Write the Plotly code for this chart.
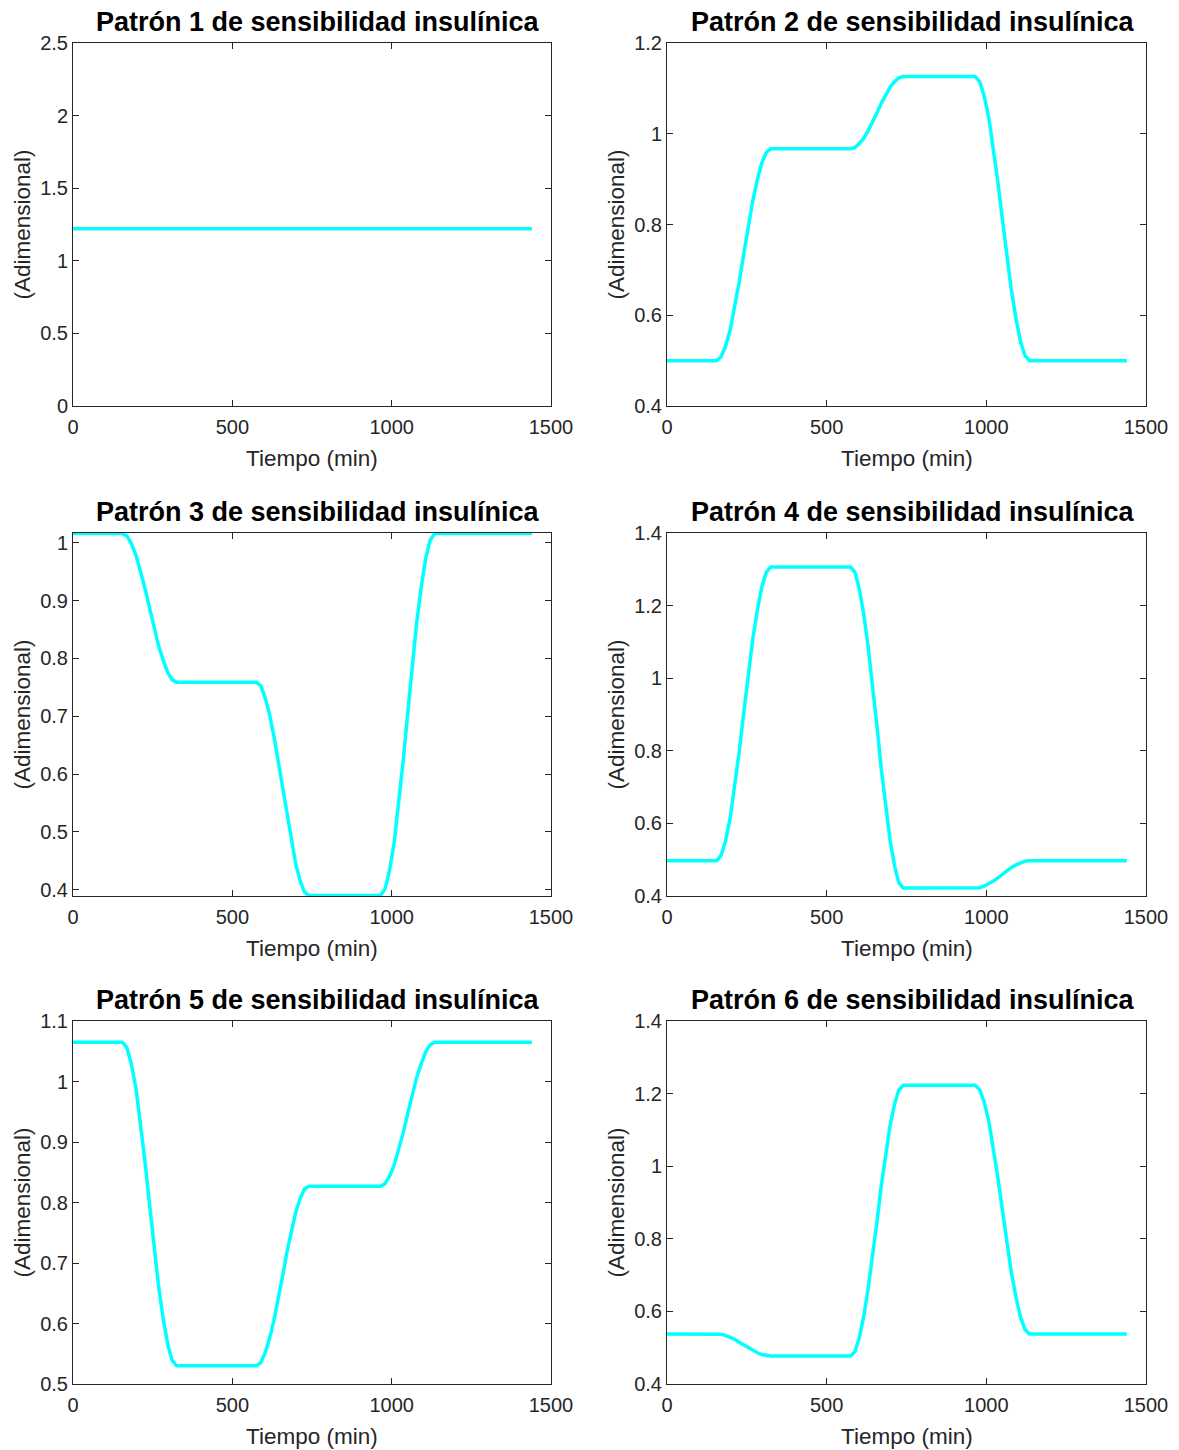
import plotly.graph_objects as go

# ---------------- data ----------------
TIME = [0,
        155, 169, 183, 198, 212, 226, 240, 254, 268, 283, 297, 311, 325,
        575, 589, 602, 616, 630, 644, 658, 671, 685, 699, 713, 726, 740,
        965, 979, 993, 1008, 1022, 1036, 1050, 1064, 1078, 1093, 1107, 1121, 1135,
        1440]

TIME_P1 = [0, 1440]
PATRON_1 = [1.22, 1.22]

PATRON_2 = [0.5,
            0.5, 0.508, 0.531, 0.568, 0.617, 0.673, 0.734, 0.794, 0.850, 0.899, 0.936, 0.959, 0.967,
            0.967, 0.970, 0.978, 0.990, 1.007, 1.026, 1.047, 1.067, 1.086, 1.103, 1.115, 1.123, 1.126,
            1.126, 1.115, 1.084, 1.034, 0.970, 0.894, 0.813, 0.732, 0.657, 0.592, 0.542, 0.511, 0.5,
            0.5]

PATRON_3 = [1.016,
            1.016, 1.012, 0.999, 0.978, 0.952, 0.921, 0.888, 0.854, 0.823, 0.797, 0.776, 0.763, 0.759,
            0.759, 0.753, 0.734, 0.705, 0.667, 0.622, 0.575, 0.527, 0.482, 0.444, 0.415, 0.396, 0.390,
            0.390, 0.401, 0.432, 0.482, 0.547, 0.622, 0.703, 0.784, 0.860, 0.924, 0.974, 1.005, 1.016,
            1.016]

PATRON_4 = [0.497,
            0.497, 0.511, 0.551, 0.615, 0.699, 0.797, 0.902, 1.006, 1.104, 1.188, 1.252, 1.292, 1.306,
            1.306, 1.291, 1.247, 1.177, 1.085, 0.978, 0.864, 0.750, 0.643, 0.551, 0.481, 0.437, 0.422,
            0.422, 0.423, 0.427, 0.433, 0.441, 0.450, 0.460, 0.469, 0.478, 0.486, 0.492, 0.496, 0.497,
            0.497]

PATRON_5 = [1.065,
            1.065, 1.056, 1.029, 0.987, 0.931, 0.867, 0.798, 0.728, 0.664, 0.608, 0.566, 0.539, 0.530,
            0.530, 0.535, 0.550, 0.574, 0.604, 0.640, 0.679, 0.717, 0.753, 0.784, 0.807, 0.822, 0.827,
            0.827, 0.831, 0.843, 0.862, 0.887, 0.915, 0.946, 0.977, 1.006, 1.030, 1.049, 1.061, 1.065,
            1.065]

PATRON_6 = [0.538,
            0.538, 0.537, 0.534, 0.529, 0.523, 0.515, 0.508, 0.500, 0.492, 0.486, 0.481, 0.478, 0.477,
            0.477, 0.490, 0.527, 0.586, 0.664, 0.754, 0.850, 0.947, 1.037, 1.114, 1.173, 1.210, 1.223,
            1.223, 1.211, 1.177, 1.123, 1.052, 0.969, 0.881, 0.792, 0.709, 0.638, 0.584, 0.550, 0.538,
            0.538]

TITLES = ["Patrón 1 de sensibilidad insulínica",
          "Patrón 2 de sensibilidad insulínica",
          "Patrón 3 de sensibilidad insulínica",
          "Patrón 4 de sensibilidad insulínica",
          "Patrón 5 de sensibilidad insulínica",
          "Patrón 6 de sensibilidad insulínica"]
X_LABEL = "Tiempo (min)"
Y_LABEL = "(Adimensional)"

X_TICKS = [0, 500, 1000, 1500]
Y_RANGES = [[0, 2.5], [0.4, 1.2], [0.389, 1.017], [0.4, 1.4], [0.5, 1.1], [0.4, 1.4]]
Y_DTICK = [0.5, 0.2, 0.1, 0.2, 0.1, 0.2]

SERIES = [(TIME_P1, PATRON_1), (TIME, PATRON_2), (TIME, PATRON_3),
          (TIME, PATRON_4), (TIME, PATRON_5), (TIME, PATRON_6)]

# ---------------- layout geometry ----------------
W, H = 1179, 1450
COLS_PX = [(73, 551), (667, 1146)]
ROWS_PX = [(43, 406), (533, 896), (1021, 1384)]

FONT = "Liberation Sans, Arial, Helvetica, sans-serif"
AX_COLOR = "#262626"
LINE_COLOR = "#00FFFF"

fig = go.Figure()
layout = dict(
    template=None,
    width=W, height=H, autosize=False,
    margin=dict(l=0, r=0, t=0, b=0, pad=0, autoexpand=False),
    paper_bgcolor="white", plot_bgcolor="white",
    showlegend=False,
    font=dict(family=FONT, color=AX_COLOR),
)
annotations = []

for i, (xs, ys) in enumerate(SERIES):
    r, c = divmod(i, 2)
    n = "" if i == 0 else str(i + 1)
    xa, ya = "x" + n, "y" + n
    fig.add_trace(go.Scatter(x=xs, y=ys, mode="lines", xaxis=xa, yaxis=ya,
                             line=dict(color=LINE_COLOR, width=3.5),
                             hoverinfo="skip"))
    x0, x1 = COLS_PX[c]
    y0, y1 = ROWS_PX[r]
    axis_common = dict(showline=True, linecolor=AX_COLOR, linewidth=1,
                       mirror="allticks", ticks="inside", ticklen=6,
                       tickcolor=AX_COLOR, tickwidth=1, showgrid=False,
                       zeroline=False, automargin=False,
                       layer="below traces",
                       tickfont=dict(family=FONT, size=20, color=AX_COLOR))
    layout["xaxis" + n] = dict(domain=[x0 / W, x1 / W], anchor=ya,
                               range=[0, 1500], tickvals=X_TICKS,
                               ticklabelstandoff=3,
                               **axis_common)
    layout["yaxis" + n] = dict(domain=[1 - y1 / H, 1 - y0 / H], anchor=xa,
                               range=Y_RANGES[i], dtick=Y_DTICK[i],
                               tick0=0, **axis_common)
    # subplot title
    annotations.append(dict(text="<b>" + TITLES[i] + "</b>", showarrow=False,
                            xref=xa + " domain", yref=ya + " domain",
                            x=0.5, y=1, xanchor="center", yanchor="middle",
                            xshift=6, yshift=21,
                            font=dict(family=FONT, size=27, color="black")))
    annotations.append(dict(text=X_LABEL, showarrow=False,
                            xref=xa + " domain", yref=ya + " domain",
                            x=0.5, y=0, xanchor="center", yanchor="middle",
                            yshift=-52,
                            font=dict(family=FONT, size=22.5, color=AX_COLOR)))
    annotations.append(dict(text=Y_LABEL, showarrow=False, textangle=-90,
                            xref=xa + " domain", yref=ya + " domain",
                            x=0, y=0.5, xanchor="center", yanchor="middle",
                            xshift=-51,
                            font=dict(family=FONT, size=22.5, color=AX_COLOR)))

layout["annotations"] = annotations
fig.update_layout(**layout)
fig.write_html("out.html")
